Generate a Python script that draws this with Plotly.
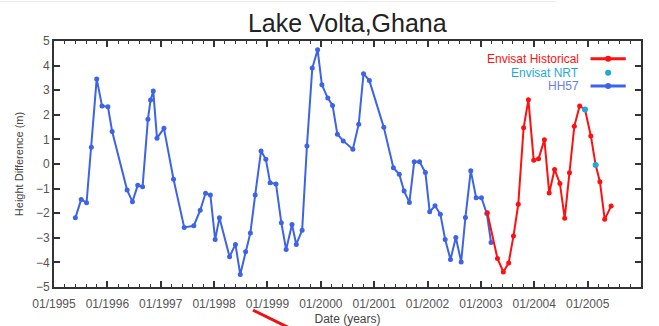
import plotly.graph_objects as go

# HH57 (Topex/Poseidon-era) height series: decimal year, height difference (m)
hh57_years = [1995.40, 1995.51, 1995.61, 1995.70, 1995.80, 1995.90, 1996.01, 1996.09,
              1996.37, 1996.47, 1996.57, 1996.66, 1996.76, 1996.81, 1996.86, 1996.93,
              1997.06, 1997.24, 1997.44, 1997.62, 1997.74, 1997.84, 1997.93, 1998.02,
              1998.10, 1998.29, 1998.40, 1998.49, 1998.59, 1998.68, 1998.77, 1998.88,
              1998.97, 1999.05, 1999.16, 1999.26, 1999.35, 1999.46, 1999.54, 1999.65,
              1999.74, 1999.84, 1999.94, 2000.02, 2000.13, 2000.22, 2000.31, 2000.42,
              2000.60, 2000.71, 2000.80, 2000.91, 2001.18, 2001.36, 2001.47, 2001.56,
              2001.66, 2001.75, 2001.85, 2001.96, 2002.04, 2002.14, 2002.24, 2002.33,
              2002.43, 2002.53, 2002.63, 2002.71, 2002.81, 2002.91, 2003.01, 2003.11,
              2003.19]
hh57_height = [-2.19, -1.44, -1.58, 0.68, 3.46, 2.36, 2.33, 1.32,
               -1.06, -1.53, -0.86, -0.92, 1.82, 2.60, 2.97, 1.05,
               1.45, -0.62, -2.58, -2.51, -1.88, -1.19, -1.26, -3.07,
               -2.19, -3.77, -3.27, -4.49, -3.57, -2.80, -1.26, 0.53,
               0.19, -0.76, -0.81, -2.39, -3.48, -2.46, -3.27, -2.69,
               0.73, 3.90, 4.64, 3.22, 2.68, 2.38, 1.21, 0.94,
               0.60, 1.62, 3.67, 3.39, 1.49, -0.15, -0.42, -1.10,
               -1.56, 0.09, 0.09, -0.35, -1.94, -1.70, -2.04, -3.07,
               -3.88, -2.99, -3.98, -2.17, -0.27, -1.37, -1.37, -2.01,
               -3.19]

# Envisat historical series
hist_years = [2003.12, 2003.31, 2003.42, 2003.52, 2003.61, 2003.70, 2003.80, 2003.89,
              2003.99, 2004.08, 2004.19, 2004.28, 2004.38, 2004.48, 2004.57, 2004.66,
              2004.75, 2004.85, 2004.95, 2005.06, 2005.15, 2005.23, 2005.32, 2005.44]
hist_height = [-1.98, -3.84, -4.39, -4.02, -2.93, -1.64, 1.47, 2.61,
               0.15, 0.21, 0.99, -1.18, -0.22, -0.79, -2.21, -0.36,
               1.53, 2.36, 2.22, 1.14, -0.04, -0.72, -2.25, -1.71]

# Envisat near-real-time points
nrt_years = [2004.95, 2005.15]
nrt_height = [2.22, -0.04]

x_ticks = list(range(1995, 2007))
x_tick_labels = ["01/%d" % y for y in x_ticks]
y_ticks = [5, 4, 3, 2, 1, 0, -1, -2, -3, -4, -5]

BLUE = "#3d63e6"
RED = "#ff1010"
CYAN = "#1ea8dc"
FONT = "Liberation Sans, Arial, sans-serif"

fig = go.Figure()

fig.add_trace(go.Scatter(x=hh57_years, y=hh57_height, mode="lines+markers",
                         line=dict(color=BLUE, width=2),
                         marker=dict(color=BLUE, size=5, symbol="circle"),
                         name="HH57", showlegend=False))
fig.add_trace(go.Scatter(x=hist_years, y=hist_height, mode="lines+markers",
                         line=dict(color=RED, width=2),
                         marker=dict(color=RED, size=5, symbol="circle"),
                         name="Envisat Historical", showlegend=False))
fig.add_trace(go.Scatter(x=nrt_years, y=nrt_height, mode="markers",
                         marker=dict(color=CYAN, size=6, symbol="circle"),
                         name="Envisat NRT", showlegend=False))

# Key: text to the left, line sample to the right, on an overlay axis in [0, 1]
key_names = ["Envisat Historical", "Envisat NRT", "HH57"]
key_colors = [RED, CYAN, "#6a7ee8"]
key_line_colors = [RED, None, BLUE]
key_rows = [0.928, 0.871, 0.817]
for name, tcol, lcol, row in zip(key_names, key_colors, key_line_colors, key_rows):
    if lcol is not None:
        fig.add_trace(go.Scatter(x=[0.914, 0.974], y=[row, row], mode="lines",
                                 line=dict(color=lcol, width=3),
                                 xaxis="x2", yaxis="y2", showlegend=False,
                                 hoverinfo="skip"))
        mcol = lcol
    else:
        mcol = CYAN
    fig.add_trace(go.Scatter(x=[0.944], y=[row], mode="markers",
                             marker=dict(color=mcol, size=6),
                             xaxis="x2", yaxis="y2", showlegend=False,
                             hoverinfo="skip"))
    fig.add_annotation(x=0.897, y=row, xref="x2", yref="y2", text=name,
                       showarrow=False, xanchor="right", yanchor="middle",
                       font=dict(color=tcol, size=12, family=FONT))

axis_common = dict(showline=True, linecolor="#333333", linewidth=2, mirror="allticks",
                   ticks="inside", tickcolor="#333333", showgrid=False, zeroline=False,
                   automargin=False,
                   tickfont=dict(color="#555555", size=12, family=FONT))

fig.update_layout(
    width=659, height=326,
    margin=dict(l=54, r=18, t=41, b=39),
    paper_bgcolor="white", plot_bgcolor="white",
    title=dict(text="Lake Volta,Ghana", x=0.527, xanchor="center", y=0.93, yanchor="middle",
               font=dict(size=25, color="#222222", family=FONT)),
    xaxis=dict(range=[1995, 2006], tickvals=x_ticks, ticktext=x_tick_labels,
               ticklen=6, tickwidth=1.5, ticklabelstandoff=5,
               minor=dict(dtick=0.2, ticks="inside", ticklen=3, tickcolor="#333333", tickwidth=1),
               title=dict(text="Date (years)", standoff=4,
                          font=dict(size=12, color="#444444", family=FONT)),
               **axis_common),
    yaxis=dict(range=[-5, 5], tickvals=y_ticks, ticklen=6, tickwidth=1.5,
               title=dict(text="Height Difference (m)", standoff=10,
                          font=dict(size=11, color="#444444", family=FONT)),
               **axis_common),
    xaxis2=dict(range=[0, 1], overlaying="x", visible=False, fixedrange=True),
    yaxis2=dict(range=[0, 1], overlaying="y", visible=False, fixedrange=True),
    shapes=[
        dict(type="line", xref="paper", yref="paper", x0=0.339, y0=-0.094, x1=0.404, y1=-0.17,
             line=dict(color="#ee1111", width=3)),
        dict(type="line", xref="paper", yref="paper", x0=-0.092, y0=1.16, x1=0.857, y1=1.16,
             line=dict(color="#ececec", width=1)),
    ],
)

fig.write_html("out.html")
